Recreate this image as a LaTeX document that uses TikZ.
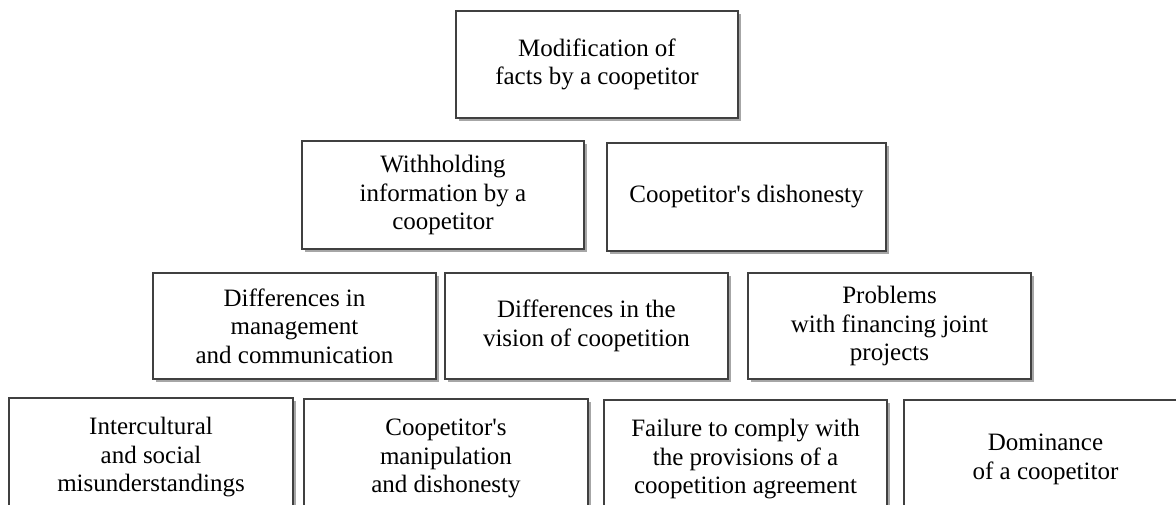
\documentclass[tikz,border=0pt]{standalone}
\usepackage{fontspec}
\setmainfont{Liberation Serif}[Ligatures=TeXOff]
\usetikzlibrary{shadows}
\tikzset{
  box/.style={draw=black!75, line width=1.3pt, fill=white, inner sep=0pt, outer sep=0pt,
    align=center, font=\fontsize{25}{28.5}\selectfont,
    drop shadow={shadow xshift=2.5pt, shadow yshift=-2.5pt, fill=black, opacity=0.35}},
}
\begin{document}
\begin{tikzpicture}[x=1pt,y=-1pt]
\useasboundingbox (0,0) rectangle (1176,504);
\clip (0,0) rectangle (1176,504);
% row 1
\node[box, minimum width=282pt, minimum height=107pt] (mod) at (597,64.5) {Modification of\\facts by a coopetitor};
% row 2
\node[box, minimum width=282pt, minimum height=108pt] (with) at (443,195) {Withholding\\information by a\\coopetitor};
\node[box, minimum width=279pt, minimum height=108pt] (dish) at (746.5,197) {Coopetitor's dishonesty};
% row 3
\node[box, minimum width=283pt, minimum height=106pt] (mgmt) at (294.5,326) {Differences in\\management\\and communication};
\node[box, minimum width=283pt, minimum height=106pt] (vis) at (586.5,326) {Differences in the\\vision of coopetition};
\node[box, minimum width=283pt, minimum height=106pt] (fin) at (889.5,326) {Problems\\with financing joint\\projects};
% row 4
\node[box, minimum width=284pt, minimum height=119pt] (inter) at (151,457.5) {Intercultural\\and social\\misunderstandings};
\node[box, minimum width=284pt, minimum height=119pt] (manip) at (446,458.5) {Coopetitor's\\manipulation\\and dishonesty};
\node[box, minimum width=283pt, minimum height=119pt] (fail) at (745.5,459.5) {Failure to comply with\\the provisions of a\\coopetition agreement};
\node[box, minimum width=283pt, minimum height=119pt] (dom) at (1045.5,459.5) {Dominance\\of a coopetitor};
\end{tikzpicture}
\end{document}
